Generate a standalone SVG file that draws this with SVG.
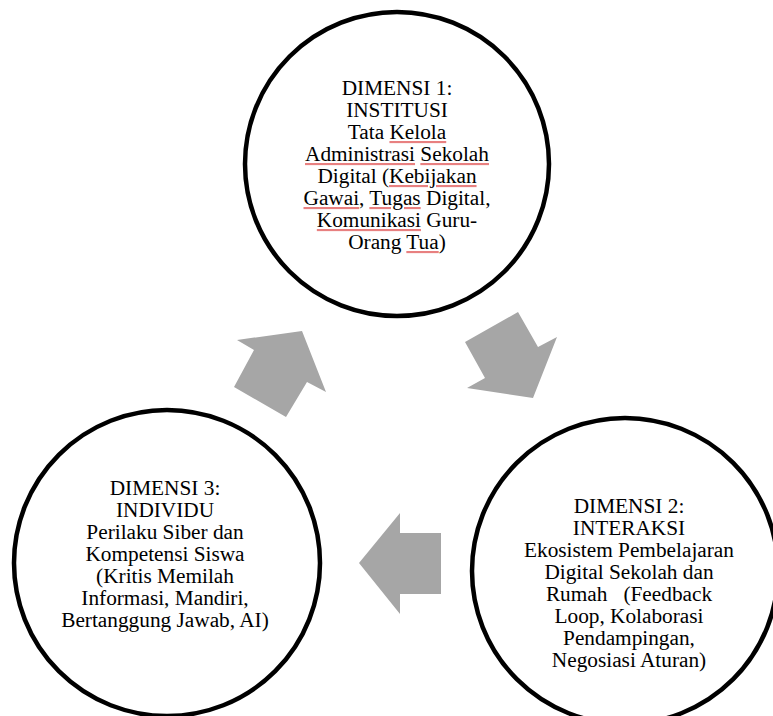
<svg xmlns="http://www.w3.org/2000/svg" width="773" height="716" viewBox="0 0 773 716">
<style>
.c{fill:#fff;stroke:#000;stroke-width:4.5}
.t{font-family:"Liberation Serif","Times New Roman",serif;font-size:21.3px;fill:#000;text-anchor:middle}
.a{fill:#A6A6A6;stroke:none}
.sp{fill:#e88080;text-decoration:underline}
.w{fill:#000}
</style>
<rect width="773" height="716" fill="#fff"/>
<g id="connectors">
<polygon class="a" points="302,331 326,392 307,382 286,417 234,387 254,350 237,340"/>
<polygon class="a" points="518,312 538,347 557,337 533,398 467,388 485,378 465,342"/>
<polygon class="a" points="359,563 400,513 400,533 441,533 441,594 400,594 400,614"/>
</g>
<g id="node-dimensi-1">
<circle class="c" cx="397" cy="164" r="152"/>
<text class="t" y="95" xml:space="preserve"><tspan x="397">DIMENSI 1:</tspan><tspan x="397" dy="22">INSTITUSI</tspan><tspan x="397" dy="22">Tata <tspan class="sp"><tspan class="w">Kelola</tspan></tspan></tspan><tspan x="397" dy="22"><tspan class="sp"><tspan class="w">Administrasi</tspan></tspan> <tspan class="sp"><tspan class="w">Sekolah</tspan></tspan></tspan><tspan x="397" dy="22">Digital (<tspan class="sp"><tspan class="w">Kebijakan</tspan></tspan></tspan><tspan x="397" dy="22"><tspan class="sp"><tspan class="w">Gawai</tspan></tspan>, <tspan class="sp"><tspan class="w">Tugas</tspan></tspan> Digital,</tspan><tspan x="397" dy="22"><tspan class="sp"><tspan class="w">Komunikasi</tspan></tspan> Guru-</tspan><tspan x="397" dy="22">Orang <tspan class="sp"><tspan class="w">Tua</tspan></tspan>)</tspan></text>
</g>
<g id="node-dimensi-2">
<circle class="c" cx="625" cy="571" r="153"/>
<text class="t" y="513" xml:space="preserve"><tspan x="629">DIMENSI 2:</tspan><tspan x="629" dy="22">INTERAKSI</tspan><tspan x="629" dy="22">Ekosistem Pembelajaran</tspan><tspan x="629" dy="22">Digital Sekolah dan</tspan><tspan x="629" dy="22">Rumah   (Feedback</tspan><tspan x="629" dy="22">Loop, Kolaborasi</tspan><tspan x="629" dy="22">Pendampingan,</tspan><tspan x="629" dy="22">Negosiasi Aturan)</tspan></text>
</g>
<g id="node-dimensi-3">
<circle class="c" cx="167" cy="563" r="153"/>
<text class="t" y="495" xml:space="preserve"><tspan x="165">DIMENSI 3:</tspan><tspan x="165" dy="22">INDIVIDU</tspan><tspan x="165" dy="22">Perilaku Siber dan</tspan><tspan x="165" dy="22">Kompetensi Siswa</tspan><tspan x="165" dy="22">(Kritis Memilah</tspan><tspan x="165" dy="22">Informasi, Mandiri,</tspan><tspan x="165" dy="22">Bertanggung Jawab, AI)</tspan></text>
</g>
</svg>
